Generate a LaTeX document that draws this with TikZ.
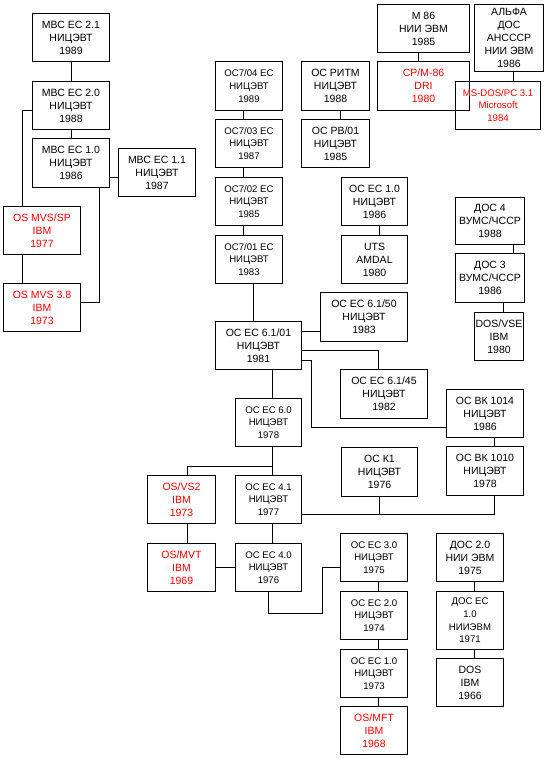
\documentclass[tikz,border=0pt]{standalone}
\usepackage{fontspec}
\setmainfont{Liberation Sans}
\usepackage{tikz}
\usetikzlibrary{positioning,calc}
\definecolor{ibmred}{RGB}{255,0,0}
\tikzset{
  osbox/.style={rectangle,draw=black,line width=1pt,align=center,anchor=north west,inner sep=0pt,font=\fontsize{10.5}{13}\selectfont},
  ibmbox/.style={osbox,text=ibmred},
  smalltxt/.style={font=\fontsize{9.6}{12.6}\selectfont},
  link/.style={line width=1pt,color=black}
}

\begin{document}
\begin{tikzpicture}[x=1pt,y=-1pt]
  \useasboundingbox (0,0) rectangle (548,758);

  %% MBC branch (left)
  \node[osbox,minimum width=77pt,minimum height=48pt] (mbc21) at (32,13) {МВС ЕС 2.1\\НИЦЭВТ\\1989};
  \node[osbox,minimum width=77pt,minimum height=48pt] (mbc20) at (32,81) {МВС ЕС 2.0\\НИЦЭВТ\\1988};
  \node[osbox,minimum width=77pt,minimum height=49pt] (mbc10) at (32,138) {МВС ЕС 1.0\\НИЦЭВТ\\1986};
  \node[osbox,minimum width=77pt,minimum height=48pt] (mbc11) at (118,148) {МВС ЕС 1.1\\НИЦЭВТ\\1987};
  \node[ibmbox,minimum width=77pt,minimum height=48pt] (mvssp) at (3,206) {OS MVS/SP\\IBM\\1977};
  \node[ibmbox,minimum width=77pt,minimum height=48pt] (mvs38) at (3,283) {OS MVS 3.8\\IBM\\1973};

  %% OC7 column
  \node[osbox,smalltxt,minimum width=67pt,minimum height=49pt] (os704) at (215,61) {ОС7/04 ЕС\\НИЦЭВТ\\1989};
  \node[osbox,smalltxt,minimum width=67pt,minimum height=48pt] (os703) at (215,119) {ОС7/03 ЕС\\НИЦЭВТ\\1987};
  \node[osbox,smalltxt,minimum width=67pt,minimum height=48pt] (os702) at (215,177) {ОС7/02 ЕС\\НИЦЭВТ\\1985};
  \node[osbox,smalltxt,minimum width=67pt,minimum height=48pt] (os701) at (215,235) {ОС7/01 ЕС\\НИЦЭВТ\\1983};

  %% RITM
  \node[osbox,minimum width=68pt,minimum height=49pt] (ritm) at (301,61) {ОС РИТМ\\НИЦЭВТ\\1988};
  \node[osbox,minimum width=68pt,minimum height=48pt] (pb01) at (301,119) {ОС РВ/01\\НИЦЭВТ\\1985};

  %% top right
  \node[osbox,minimum width=92pt,minimum height=48pt] (m86) at (377,4) {М 86\\НИИ ЭВМ\\1985};
  \node[ibmbox,minimum width=92pt,minimum height=49pt] (cpm86) at (377,61) {CP/M-86\\DRI\\1980};
  \node[osbox,minimum width=69pt,minimum height=67pt] (alfa) at (474,4) {АЛЬФА\\ДОС\\АНСССР\\НИИ ЭВМ\\1986};
  \node[ibmbox,smalltxt,minimum width=85pt,minimum height=48pt] (msdos) at (455,81) {MS-DOS/PC 3.1\\Microsoft\\1984};

  %% UTS
  \node[osbox,minimum width=66pt,minimum height=48pt] (es10b) at (341,177) {ОС ЕС 1.0\\НИЦЭВТ\\1986};
  \node[osbox,minimum width=66pt,minimum height=48pt] (uts) at (341,235) {UTS\\AMDAL\\1980};

  %% DOS 4 / 3
  \node[osbox,minimum width=69pt,minimum height=47pt] (dos4) at (455,197) {ДОС 4\\ВУМС/ЧССР\\1988};
  \node[osbox,minimum width=69pt,minimum height=49pt] (dos3) at (455,253) {ДОС 3\\ВУМС/ЧССР\\1986};
  \node[osbox,minimum width=49pt,minimum height=48pt] (dosvse) at (474,312) {DOS/VSE\\IBM\\1980};

  %% EC 6.x
  \node[osbox,minimum width=87pt,minimum height=49pt] (es6150) at (320,292) {ОС ЕС 6.1/50\\НИЦЭВТ\\1983};
  \node[osbox,minimum width=86pt,minimum height=48pt] (es6101) at (215,321) {ОС ЕС 6.1/01\\НИЦЭВТ\\1981};
  \node[osbox,minimum width=87pt,minimum height=49pt] (es6145) at (340,369) {ОС ЕС 6.1/45\\НИЦЭВТ\\1982};
  \node[osbox,minimum width=77pt,minimum height=48pt] (bk1014) at (446,389) {ОС ВК 1014\\НИЦЭВТ\\1986};
  \node[osbox,minimum width=77pt,minimum height=49pt] (bk1010) at (446,446) {ОС ВК 1010\\НИЦЭВТ\\1978};
  \node[osbox,smalltxt,minimum width=66pt,minimum height=48pt] (es60) at (235,398) {ОС ЕС 6.0\\НИЦЭВТ\\1978};
  \node[osbox,minimum width=76pt,minimum height=49pt] (k1) at (341,447) {ОС К1\\НИЦЭВТ\\1976};

  %% EC 4.x and IBM
  \node[ibmbox,minimum width=68pt,minimum height=48pt] (vs2) at (147,475) {OS/VS2\\IBM\\1973};
  \node[osbox,smalltxt,minimum width=66pt,minimum height=48pt] (es41) at (235,475) {ОС ЕС 4.1\\НИЦЭВТ\\1977};
  \node[ibmbox,minimum width=68pt,minimum height=48pt] (mvt) at (147,543) {OS/MVT\\IBM\\1969};
  \node[osbox,smalltxt,minimum width=66pt,minimum height=48pt] (es40) at (235,543) {ОС ЕС 4.0\\НИЦЭВТ\\1976};

  %% EC 3.0 .. 1.0
  \node[osbox,smalltxt,minimum width=67pt,minimum height=48pt] (es30) at (340,533) {ОС ЕС 3.0\\НИЦЭВТ\\1975};
  \node[osbox,smalltxt,minimum width=67pt,minimum height=48pt] (es20) at (340,591) {ОС ЕС 2.0\\НИЦЭВТ\\1974};
  \node[osbox,smalltxt,minimum width=67pt,minimum height=48pt] (es10) at (340,649) {ОС ЕС 1.0\\НИЦЭВТ\\1973};
  \node[ibmbox,minimum width=67pt,minimum height=48pt] (mft) at (340,706) {OS/MFT\\IBM\\1968};

  %% DOS column
  \node[osbox,minimum width=67pt,minimum height=48pt] (dos20) at (436,533) {ДОС 2.0\\НИИ ЭВМ\\1975};
  \node[osbox,smalltxt,minimum width=67pt,minimum height=58pt] (dosec) at (436,591) {ДОС ЕС\\1.0\\НИИЭВМ\\1971};
  \node[osbox,minimum width=67pt,minimum height=48pt] (dos) at (436,658) {DOS\\IBM\\1966};

  %% links
  \draw[link] (mbc21.south) -- (mbc20.north);
  \draw[link] (mbc20.south) -- (mbc10.north);
  \draw[link] (mbc10.east |- 0,177) -- (mbc11.west |- 0,177);
  \draw[link] (mbc20.west |- 0,110) -| (mvssp.north -| 22,0);
  \draw[link] (mvssp.south -| 22,0) -- (mvs38.north -| 22,0);
  \draw[link] (mvs38.east |- 0,302) -| (mbc10.south -| 99,0);

  \draw[link] (os704.south -| 243,0) -- (os703.north -| 243,0);
  \draw[link] (os703.south -| 243,0) -- (os702.north -| 243,0);
  \draw[link] (os702.south -| 243,0) -- (os701.north -| 243,0);
  \draw[link] (os701.south -| 253,0) -- (es6101.north -| 253,0);

  \draw[link] (ritm.south -| 340,0) -- (pb01.north -| 340,0);
  \draw[link] (m86.south -| 418,0) -- (cpm86.north -| 418,0);
  \draw[link] (alfa.south -| 513,0) -- (msdos.north -| 513,0);
  \draw[link] (es10b.south -| 379,0) -- (uts.north -| 379,0);
  \draw[link] (dos4.south -| 513,0) -- (dos3.north -| 513,0);
  \draw[link] (dos3.south -| 503,0) -- (dosvse.north -| 503,0);

  \draw[link] (es6101.east |- 0,331) -- (es6150.west |- 0,331);
  \draw[link] (es6101.east |- 0,350) -| (es6145.north -| 378,0);
  \draw[link] (es6101.east |- 0,360) -| (311,427) -- (bk1014.west |- 0,427);
  \draw[link] (bk1014.south -| 494,0) -- (bk1010.north -| 494,0);

  \draw[link] (es6101.south -| 272,0) -- (es60.north -| 272,0);
  \draw[link] (es60.south -| 272,0) -- (es41.north -| 272,0);
  \draw[link] (272,466) -| (vs2.north -| 187,0);
  \draw[link] (vs2.south -| 187,0) -- (mvt.north -| 187,0);
  \draw[link] (es41.south -| 272,0) -- (es40.north -| 272,0);
  \draw[link] (mvt.east |- 0,567) -- (es40.west |- 0,567);
  \draw[link] (es41.east |- 0,514) -| (bk1010.south -| 494,0);
  \draw[link] (k1.south -| 379,0) -- (379,514);

  \draw[link] (es40.south -| 268,0) |- (322,613) |- (es30.west |- 0,567);
  \draw[link] (es30.south -| 378,0) -- (es20.north -| 378,0);
  \draw[link] (es20.south -| 378,0) -- (es10.north -| 378,0);
  \draw[link] (es10.south -| 378,0) -- (mft.north -| 378,0);

  \draw[link] (dos20.south -| 474,0) -- (dosec.north -| 474,0);
  \draw[link] (dosec.south -| 474,0) -- (dos.north -| 474,0);
\end{tikzpicture}
\end{document}
